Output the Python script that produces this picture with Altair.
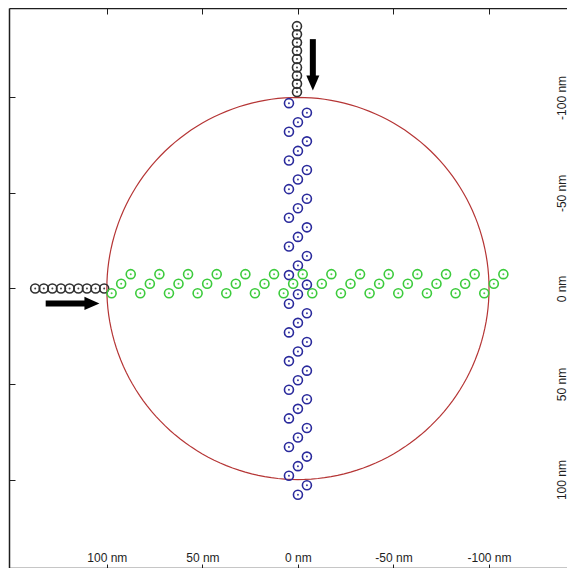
import math
import altair as alt
import pandas as pd

# ---------------- data (nm) ----------------
tick_values = [-100, -50, 0, 50, 100]

green_x = [97.5, 92.5, 87.5, 82.5, 77.5, 72.5, 67.5, 62.5, 57.5, 52.5, 47.5, 42.5,
           37.5, 32.5, 27.5, 22.5, 17.5, 12.5, 7.5, 2.5, -2.5, -7.5, -12.5, -17.5,
           -22.5, -27.5, -32.5, -37.5, -42.5, -47.5, -52.5, -57.5, -62.5, -67.5,
           -72.5, -77.5, -82.5, -87.5, -92.5, -97.5, -102.5, -107.5]
green_y = [2.5, -2.5, -7.5, 2.5, -2.5, -7.5, 2.5, -2.5, -7.5, 2.5, -2.5, -7.5,
           2.5, -2.5, -7.5, 2.5, -2.5, -7.5, 2.5, -2.5, -7.5, 2.5, -2.5, -7.5,
           2.5, -2.5, -7.5, 2.5, -2.5, -7.5, 2.5, -2.5, -7.5, 2.5, -2.5, -7.5,
           2.5, -2.5, -7.5, 2.5, -2.5, -7.5]

blue_x = [4.7, -4.7, 0, 4.7, -4.7, 0, 4.7, -4.7, 0, 4.7, -4.7, 0,
          4.7, -4.7, 0, 4.7, -4.7, 0, 4.7, -4.7, 0, 4.7, -4.7, 0,
          4.7, -4.7, 0, 4.7, -4.7, 0, 4.7, -4.7, 0, 4.7, -4.7, 0,
          4.7, -4.7, 0, 4.7, -4.7, 0]
blue_y = [-97, -92, -87, -82, -77, -72, -67, -62, -57, -52, -47, -42,
          -37, -32, -27, -22, -17, -12, -7, -2, 3, 8, 13, 18,
          23, 28, 33, 38, 43, 48, 53, 58, 63, 68, 73, 78,
          83, 88, 93, 98, 103, 108]

black_v_x = [0.5, 0.5, 0.5, 0.5, 0.5, 0.5, 0.5, 0.5, 0.5]
black_v_y = [-137.3, -133.0, -128.7, -124.4, -120.1, -115.7, -111.4, -107.1, -102.8]
black_h_x = [137.5, 133.0, 128.5, 124.0, 119.5, 114.9, 110.4, 105.9, 101.4]
black_h_y = [0, 0, 0, 0, 0, 0, 0, 0, 0]

# arrows: shaft start/end and head centre
shaft_x = [-7.8, 132.0]
shaft_x2 = [-7.8, 110.0]
shaft_y = [-130.5, 7.8]
shaft_y2 = [-110.5, 7.8]
head_x = [-7.8, 107.8]
head_y = [-107.5, 7.8]
head_shape = ["M-0.87,-1L0.87,-1L0,1Z", "M-1,-0.87L1,0L-1,0.87Z"]

circle_radius = 100

# ---------------- layout ----------------
W, H = 558, 560
XD = [-140.8, 151.2]
YD = [-146.8, 146.3]
FONT = "Liberation Sans"
INK = "#1e1e1e"


def X(field, axis=None):
    return alt.X(field, type="quantitative", axis=axis,
                 scale=alt.Scale(domain=XD, reverse=True, nice=False, zero=False))


def Y(field, axis=None):
    return alt.Y(field, type="quantitative", axis=axis,
                 scale=alt.Scale(domain=YD, reverse=True, nice=False, zero=False))


label_expr = "datum.value + ' nm'"
ax_bottom = alt.Axis(orient="top", offset=-H, values=tick_values, labelExpr=label_expr,
                     tickSize=4, labelPadding=0, grid=False, title=None,
                     labelFont=FONT, labelFontSize=12, labelColor=INK,
                     domainColor=INK, domainWidth=1.5, tickColor=INK,
                     labelFlush=False, labelOverlap=False)
ax_top = alt.Axis(orient="bottom", offset=-H, values=tick_values, labels=False,
                  tickSize=6, grid=False, title=None, domainColor=INK,
                  domainWidth=1.5, tickColor=INK)
ax_left = alt.Axis(orient="right", offset=-W, values=tick_values, labels=False,
                   tickSize=6, grid=False, title=None, domainColor=INK,
                   domainWidth=1.5, tickColor=INK)
ax_right = alt.Axis(orient="left", offset=-W, values=tick_values, labelExpr=label_expr,
                    labelAngle=270, labelAlign="center", labelBaseline="middle",
                    ticks=False, tickSize=0, labelPadding=6, domain=False,
                    grid=False, title=None, labelFont=FONT, labelFontSize=12,
                    labelColor=INK, labelFlush=False, labelOverlap=False)

# ---------------- frames ----------------
green = pd.DataFrame({"x": green_x, "y": green_y})
blue = pd.DataFrame({"x": blue_x, "y": blue_y})
black = pd.DataFrame({"x": black_v_x + black_h_x, "y": black_v_y + black_h_y})
shafts = pd.DataFrame({"x": shaft_x, "x2": shaft_x2, "y": shaft_y, "y2": shaft_y2})
heads = pd.DataFrame({"x": head_x, "y": head_y, "shape": head_shape})

angles = list(range(0, 361, 2))
circ = pd.DataFrame({
    "k": angles,
    "x": [circle_radius * math.cos(math.radians(a)) for a in angles],
    "y": [circle_radius * math.sin(math.radians(a)) for a in angles],
})

layers = []

layers.append(alt.Chart(circ).mark_line(color="#b53535", strokeWidth=1.2, clip=False).encode(
    x=X("x"), y=Y("y"), order="k:Q"))


def ring_layers(df, color, xaxis=None, yaxis=None):
    ring = alt.Chart(df).mark_point(shape="circle", filled=False, size=81,
                                    strokeWidth=1.6, color=color, opacity=1).encode(
        x=X("x", xaxis), y=Y("y", yaxis))
    dot = alt.Chart(df).mark_point(shape="circle", filled=True, size=4,
                                   color=color, opacity=0.9).encode(
        x=X("x"), y=Y("y"))
    return [ring, dot]


layers += ring_layers(black, "#303030")
layers += ring_layers(blue, "#2a2a9c", ax_top, ax_left)
layers += ring_layers(green, "#3ccb3c", ax_bottom, ax_right)

layers.append(alt.Chart(shafts).mark_rule(color="#000000", strokeWidth=6, strokeCap="butt").encode(
    x=X("x"), x2="x2", y=Y("y"), y2="y2"))
for i in range(len(head_shape)):
    layers.append(alt.Chart(heads.iloc[[i]]).mark_point(
        shape=head_shape[i], filled=True, size=225, color="#000000", opacity=1,
        strokeWidth=0).encode(x=X("x"), y=Y("y")))

chart = alt.layer(*layers).resolve_axis(x="independent", y="independent").properties(
    width=W, height=H, autosize="none",
    padding={"left": 1, "top": 0, "right": 0, "bottom": 0},
    background="white",
).configure_view(stroke=None)

chart.save("out.html", embed_options={"renderer": "svg", "actions": False})
